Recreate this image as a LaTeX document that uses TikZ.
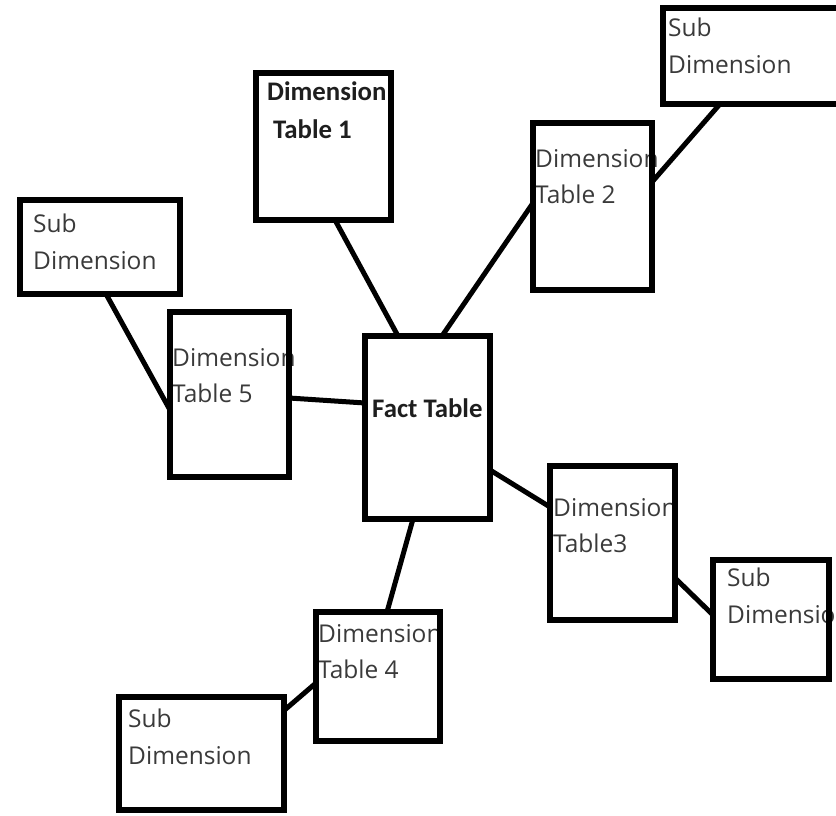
\documentclass[tikz,border=0pt]{standalone}
\usepackage{fontspec}
\usepackage{tikz}
\usetikzlibrary{positioning,backgrounds}
\newfontfamily\plainface{Open Sans}
\newfontfamily\boldface{Carlito}
\definecolor{inkgray}{RGB}{58,58,58}
\definecolor{inkdark}{RGB}{30,30,30}

\begin{document}
\begin{tikzpicture}[
        x=1pt, y=-1pt,
        tbl/.style={
            rectangle,
            draw=black,
            line width=6pt,
            inner sep=0pt,
            outer sep=0pt
        },
        plaintext/.style={
            inner sep=0pt,
            align=left,
            text=inkgray,
            font=\plainface\fontsize{24.5}{36.5}\selectfont
        },
        boldtext/.style={
            inner sep=0pt,
            align=left,
            text=inkdark,
            font=\boldface\bfseries\fontsize{26.8}{38}\selectfont
        },
        link/.style={
            line width=5pt,
            color=black
        }
    ]
    \useasboundingbox (0,0) rectangle (836,816);

    % Fact table in the middle
    \node[tbl, minimum width=125pt, minimum height=183pt] (fact) at (427.5,427.5) {};

    % Dimension tables round the fact table
    \node[tbl, minimum width=135pt, minimum height=147pt] (dimA) at (323.5,146.5) {};
    \node[tbl, minimum width=119pt, minimum height=167pt] (dimB) at (592.5,206.5) {};
    \node[tbl, minimum width=125pt, minimum height=154pt] (dimC) at (612.5,543) {};
    \node[tbl, minimum width=124pt, minimum height=129pt] (dimD) at (378,676.5) {};
    \node[tbl, minimum width=119pt, minimum height=165pt] (dimE) at (229.5,394.5) {};

    % Sub dimensions on the outside
    \node[tbl, minimum width=187pt, minimum height=96pt] (subB) at (756.5,56) {};
    \node[tbl, minimum width=116pt, minimum height=119pt] (subC) at (771,619.5) {};
    \node[tbl, minimum width=165pt, minimum height=113pt] (subD) at (201.5,753.5) {};
    \node[tbl, minimum width=160pt, minimum height=94pt] (subE) at (100,247) {};

    % Texts sit behind the borders
    \begin{scope}[on background layer]
    \node[boldtext, below right=62pt and 7pt of fact.north west] (factlbl) {Fact Table};
    \node[boldtext, below right=8pt and 11pt of dimA.north west] (dimAlbl) {Dimension\\\hspace*{6pt}Table 1};
    \node[plaintext, below right=26pt and 2pt of dimB.north west] (dimBlbl) {Dimension\\Table 2};
    \node[plaintext, below right=32pt and 3pt of dimC.north west] (dimClbl) {Dimension\\Table3};
    \node[plaintext, below right=12pt and 2pt of dimD.north west] (dimDlbl) {Dimension\\Table 4};
    \node[plaintext, below right=36pt and 2pt of dimE.north west] (dimElbl) {Dimension\\Table 5};
    \node[plaintext, below right=10pt and 5pt of subB.north west] (subBlbl) {Sub\\Dimension};
    \node[plaintext, below right=8pt and 14pt of subC.north west] (subClbl) {Sub\\Dimension};
    \node[plaintext, below right=12pt and 9pt of subD.north west] (subDlbl) {Sub\\Dimension};
    \node[plaintext, below right=14pt and 13pt of subE.north west] (subElbl) {Sub\\Dimension};
    \end{scope}

    % Draw connection lines
    \draw[link] ([xshift=11.5pt]dimA.south) -- ([xshift=-29.5pt]fact.north);
    \draw[link] ([yshift=3.5pt]dimB.west) -- ([xshift=14.5pt]fact.north);
    \draw[link] ([yshift=-42.5pt]fact.east) -- ([yshift=36pt]dimC.west);
    \draw[link] ([xshift=-14.5pt]fact.south) -- ([xshift=9pt]dimD.north);
    \draw[link] ([yshift=-3.5pt]dimE.east) -- ([yshift=24.5pt]fact.west);
    \draw[link] ([xshift=-36.5pt]subB.south) -- ([yshift=24.5pt]dimB.east);
    \draw[link] ([yshift=-35pt]dimC.east) -- ([yshift=4.5pt]subC.west);
    \draw[link] ([yshift=-6.5pt]dimD.west) -- ([yshift=43pt]subD.east);
    \draw[link] ([xshift=6pt]subE.south) -- ([yshift=-15.5pt]dimE.west);

\end{tikzpicture}
\end{document}
